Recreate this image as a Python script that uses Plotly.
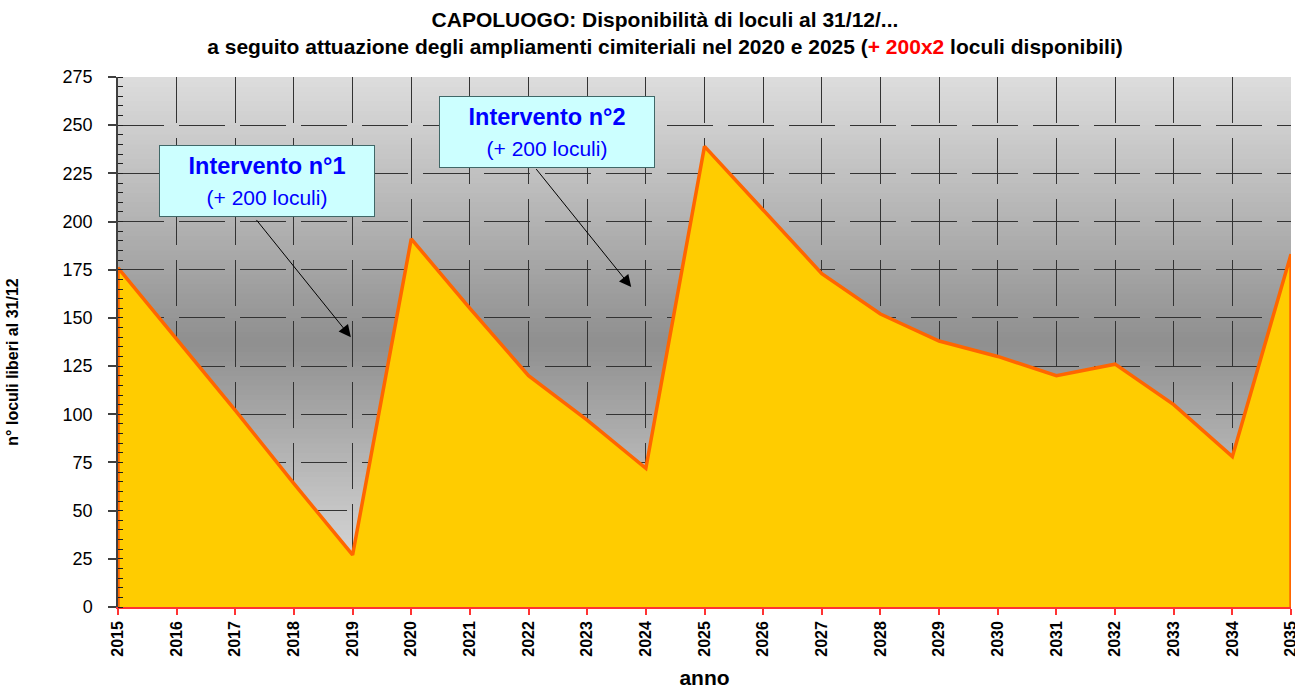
import plotly.graph_objects as go

# ---- data ----
years = list(range(2015, 2036))
loculi_liberi = [176, 139, 102, 64, 27, 191, 155, 120, 97, 72, 239, 206, 173, 152, 138, 130, 120, 126, 105, 78, 183]
y_ticks = list(range(0, 276, 25))
title_line1 = "CAPOLUOGO: Disponibilità di loculi al 31/12/..."
title_line2_a = "a seguito attuazione degli ampliamenti cimiteriali nel 2020 e 2025 ("
title_line2_red = "+ 200x2"
title_line2_b = " loculi disponibili)"
ann_titles = ["Intervento n°1", "Intervento n°2"]
ann_sub = "(+ 200 loculi)"

FONT = "Arial, 'Liberation Sans', sans-serif"

fig = go.Figure()

# area polygon (closed on both sides down to zero)
x_poly = [years[0]] + years + [years[-1]]
y_poly = [0] + loculi_liberi + [0]
fig.add_trace(go.Scatter(
    x=x_poly, y=y_poly, mode="lines", fill="tozeroy",
    fillcolor="#FFCC00", line=dict(color="#FF6600", width=3.5),
    cliponaxis=False, hoverinfo="skip", showlegend=False,
))

# gradient background (light - dark - light): overlapping rects, each from y0 up to the top
shapes = []
n = 110
for i in range(n):
    y0 = i / n
    t = (i + 0.5) / n
    if t < 0.5:
        g = 229 + (143 - 229) * (t / 0.5)
    else:
        g = 143 + (221 - 143) * ((t - 0.5) / 0.5)
    g = int(round(g))
    shapes.append(dict(type="rect", xref="x domain", yref="y domain",
                       x0=0, x1=1, y0=y0, y1=1,
                       fillcolor=f"rgb({g},{g},{g})", line=dict(width=0),
                       layer="below"))

annotations = []
# text boxes
box_pos = [(2017.54, 220.8), (2022.31, 246.6)]
for (bx, by), t in zip(box_pos, ann_titles):
    annotations.append(dict(
        x=bx, y=by, xref="x", yref="y", showarrow=False,
        text=f"<b>{t}</b><br><span style='font-size:21px'>{ann_sub}</span>",
        font=dict(family=FONT, size=23.5, color="#0000FF"),
        bgcolor="#CCFFFF", bordercolor="#406868", borderwidth=1,
        width=212, height=68, borderpad=1, align="center", valign="middle",
        xanchor="center", yanchor="middle",
    ))
# arrows (head, tail)
arrows = [((2018.97, 140), (2017.34, 201.6)), ((2023.75, 166), (2022.11, 228))]
for (hx, hy), (tx, ty) in arrows:
    annotations.append(dict(
        x=hx, y=hy, ax=tx, ay=ty, xref="x", yref="y", axref="x", ayref="y",
        text="", showarrow=True, arrowhead=2, arrowsize=2.4, arrowwidth=1,
        arrowcolor="#000000", standoff=0, startstandoff=0,
    ))

fig.update_layout(
    width=1295, height=689,
    margin=dict(l=118, r=4, t=77, b=82, autoexpand=False),
    paper_bgcolor="white", plot_bgcolor="rgba(0,0,0,0)",
    shapes=shapes, annotations=annotations,
    title=dict(
        text=f"<b>{title_line1}</b><br><b>{title_line2_a}<span style='color:#FF0000'>{title_line2_red}</span>{title_line2_b}</b>",
        x=0.5135, xanchor="center", y=0.961, yanchor="top",
        font=dict(family=FONT, size=21, color="black"),
    ),
    font=dict(family=FONT, color="black"),
)

fig.update_xaxes(
    range=[2015, 2035], tickmode="array", tickvals=years,
    ticktext=[f"<b>{y}</b>" for y in years], tickangle=-90,
    tickfont=dict(family=FONT, size=16, color="black"),
    ticklabeloverflow="allow",
    showline=True, linecolor="#FF3333", linewidth=1.5,
    ticks="outside", ticklen=6, tickcolor="#FF3333", tickwidth=1.5,
    showgrid=True, gridcolor="#333333", gridwidth=1, griddash="46px,15px",
    zeroline=False, automargin=False,
    title=dict(text="<b>anno</b>", font=dict(family=FONT, size=21, color="black"), standoff=25),
)
fig.update_yaxes(
    range=[0, 275], tickmode="array", tickvals=y_ticks,
    tickfont=dict(family=FONT, size=18, color="black"),
    showline=True, linecolor="#404040", linewidth=1.5,
    ticks="outside", ticklen=8, tickcolor="#404040", tickwidth=1.5,
    ticklabelstandoff=12,
    minor=dict(dtick=5, ticks="inside", ticklen=5, tickcolor="#202020", tickwidth=1, showgrid=False),
    showgrid=True, gridcolor="#333333", gridwidth=1, griddash="46px,15px",
    zeroline=False, automargin=False,
    title=dict(text="<b>n° loculi liberi al 31/12</b>" + "&nbsp;" * 9,
               font=dict(family=FONT, size=16, color="black"), standoff=40),
)

# remove the page's default body margin so the 1295x689 figure fills the window exactly
fig.write_html(
    "out.html",
    config={"displayModeBar": False},
    post_script="document.body.style.margin='0';document.body.style.overflow='hidden';",
)
